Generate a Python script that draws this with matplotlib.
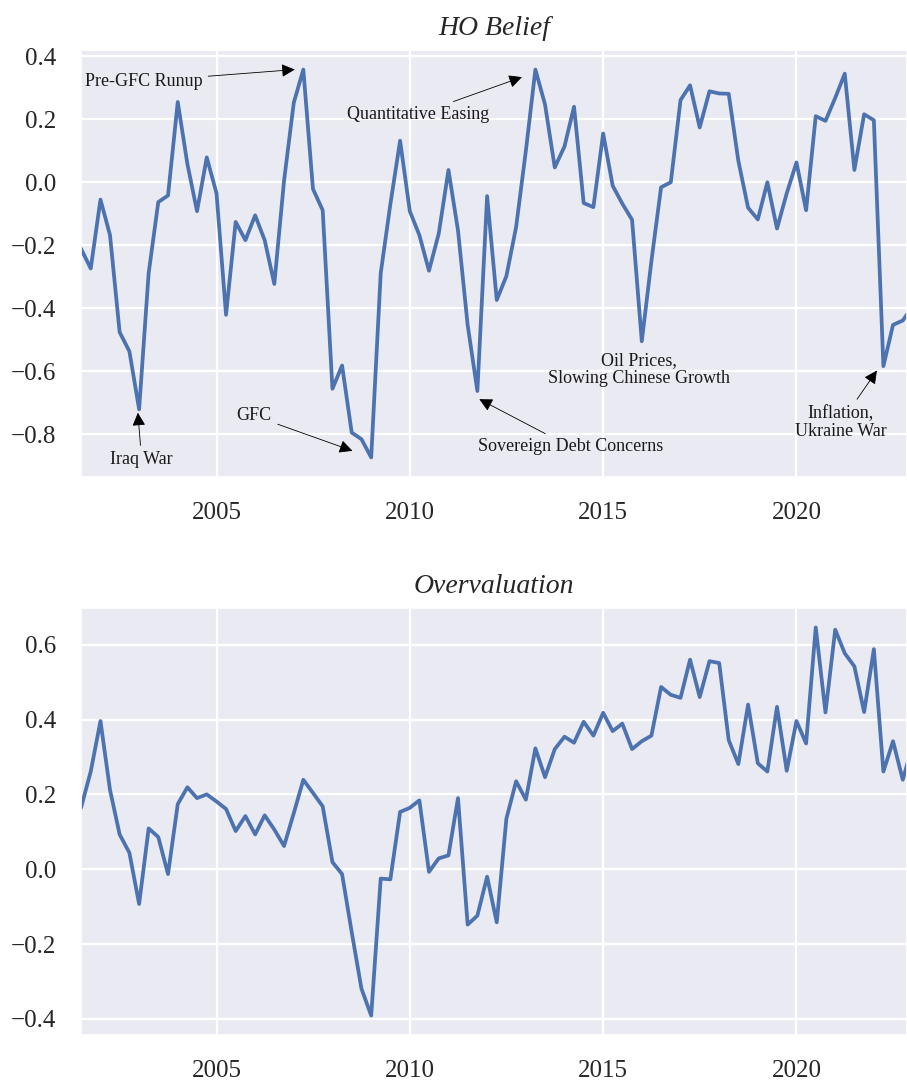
import numpy as np
import pandas as pd
import matplotlib
matplotlib.use("Agg")
import matplotlib.pyplot as plt
import seaborn as sns

sns.set_theme(style="darkgrid")
plt.rcParams["font.family"] = ["Liberation Serif", "DejaVu Serif"]

# Quarterly series, starting 2001Q3
ho_belief = [
    -0.211, -0.274, -0.055, -0.168, -0.476, -0.537, -0.721, -0.289, -0.063, -0.042,
    0.255, 0.058, -0.092, 0.079, -0.035, -0.421, -0.126, -0.184, -0.105, -0.184,
    -0.323, 0.005, 0.253, 0.358, -0.021, -0.089, -0.656, -0.582, -0.795, -0.816,
    -0.874, -0.289, -0.070, 0.132, -0.092, -0.168, -0.281, -0.163, 0.039, -0.153,
    -0.453, -0.663, -0.044, -0.374, -0.298, -0.142, 0.100, 0.358, 0.247, 0.047,
    0.114, 0.240, -0.066, -0.079, 0.155, -0.011, -0.068, -0.119, -0.505, -0.250,
    -0.016, 0.000, 0.261, 0.308, 0.174, 0.289, 0.282, 0.281, 0.068, -0.081,
    -0.118, 0.000, -0.147, -0.035, 0.063, -0.089, 0.210, 0.195, 0.268, 0.345,
    0.039, 0.216, 0.197, -0.584, -0.453, -0.439, -0.395,
]
overvaluation = [
    0.164, 0.261, 0.396, 0.212, 0.093, 0.044, -0.093, 0.109, 0.086, -0.013,
    0.174, 0.219, 0.190, 0.200, 0.181, 0.161, 0.102, 0.142, 0.093, 0.144,
    0.106, 0.062, 0.150, 0.239, 0.204, 0.168, 0.019, -0.013, -0.168, -0.319,
    -0.391, -0.025, -0.027, 0.153, 0.164, 0.184, -0.007, 0.029, 0.037, 0.190,
    -0.148, -0.124, -0.020, -0.142, 0.135, 0.235, 0.186, 0.323, 0.246, 0.321,
    0.354, 0.338, 0.394, 0.357, 0.418, 0.369, 0.389, 0.321, 0.342, 0.357,
    0.487, 0.466, 0.458, 0.560, 0.460, 0.556, 0.551, 0.345, 0.281, 0.440,
    0.283, 0.261, 0.434, 0.263, 0.396, 0.336, 0.646, 0.419, 0.640, 0.577,
    0.542, 0.420, 0.588, 0.261, 0.342, 0.239, 0.330,
]
dates = pd.date_range("2001-07-01", periods=len(ho_belief), freq="QS")

# (label, text position, arrow tip or None)
events = [
    ("Pre-GFC Runup", ("2003-02-10", 0.321), ("2007-01-10", 0.358)),
    ("Quantitative Easing", ("2010-03-17", 0.216), ("2012-11-25", 0.334)),
    ("Iraq War", ("2003-01-25", -0.882), ("2002-12-20", -0.732)),
    ("GFC", ("2005-12-24", -0.742), ("2008-07-08", -0.853)),
    ("Sovereign Debt Concerns", ("2014-02-24", -0.840), ("2011-10-19", -0.689)),
    ("Oil Prices,\nSlowing Chinese Growth", ("2015-12-05", -0.595), None),
    ("Inflation,\nUkraine War", ("2021-02-24", -0.763), ("2022-01-30", -0.598)),
]

color = "#4C72B0"
fig = plt.figure(figsize=(9.07, 10.83), dpi=100)
ax1 = fig.add_axes([0.0893, 0.5596, 0.9107, 0.3942])
ax2 = fig.add_axes([0.0893, 0.0443, 0.9107, 0.3943])

ax1.plot(dates, ho_belief, color=color, lw=2.7)
ax2.plot(dates, overvaluation, color=color, lw=2.7)

ax1.set_ylim(-0.936, 0.42)
ax2.set_ylim(-0.443, 0.698)
ax1.set_yticks([-0.8, -0.6, -0.4, -0.2, 0.0, 0.2, 0.4])
ax2.set_yticks([-0.4, -0.2, 0.0, 0.2, 0.4, 0.6])

minus_fmt = matplotlib.ticker.FuncFormatter(lambda v, p: f"{v:.1f}".replace("-", "\u2212"))

for ax, title in [(ax1, "HO Belief"), (ax2, "Overvaluation")]:
    ax.set_xlim(pd.Timestamp("2001-07-01"), pd.Timestamp("2022-11-10"))
    ax.xaxis.set_major_locator(matplotlib.dates.YearLocator(5))
    ax.xaxis.set_major_formatter(matplotlib.dates.DateFormatter("%Y"))
    ax.yaxis.set_major_formatter(minus_fmt)
    ax.tick_params(labelsize=18, colors="#262626")
    ax.tick_params(axis="x", pad=12)
    ax.tick_params(axis="y", pad=12)
    ax.grid(color="white", lw=1.6)
    ax.set_title(title, fontsize=20, style="italic", pad=11, color="#262626")

for label, (tx, ty), tip in events:
    if tip is None:
        ax1.text(pd.Timestamp(tx), ty, label, ha="center", va="center",
                 fontsize=13, color="#1a1a1a", linespacing=1.1)
    else:
        ax1.annotate(label, xy=(pd.Timestamp(tip[0]), tip[1]),
                     xytext=(pd.Timestamp(tx), ty),
                     ha="center", va="center", fontsize=13, color="#1a1a1a",
                     linespacing=1.1,
                     arrowprops=dict(arrowstyle="-|>", color="black", lw=0.6,
                                     mutation_scale=20, shrinkA=2, shrinkB=0))

fig.savefig("out.png", dpi=100)
